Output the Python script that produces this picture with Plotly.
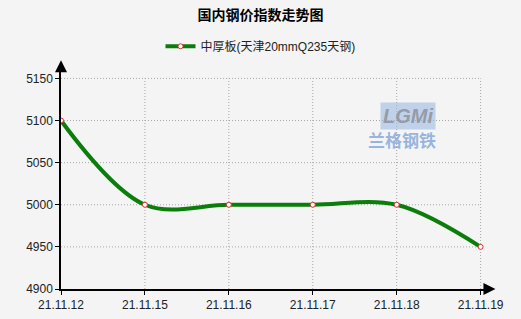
import plotly.graph_objects as go

categories = ["21.11.12", "21.11.15", "21.11.16", "21.11.17", "21.11.18", "21.11.19"]
values = [5100, 5000, 5000, 5000, 5000, 4950]
y_ticks = [4900, 4950, 5000, 5050, 5100, 5150]
series_name = "中厚板(天津20mmQ235天钢)"
title_text = "国内钢价指数走势图"

xs = list(range(len(categories)))
FONT = "Liberation Sans, Noto Sans CJK SC, sans-serif"

fig = go.Figure()
fig.add_trace(go.Scatter(
    x=xs, y=values, name=series_name, mode="lines+markers",
    line=dict(color="#0a7d0a", width=4, shape="spline", smoothing=1.0),
    marker=dict(size=5, color="white", line=dict(color="#e03030", width=1)),
))

shapes = []
for yv in y_ticks[1:]:
    shapes.append(dict(type="line", xref="x", yref="y", x0=0, x1=xs[-1], y0=yv, y1=yv,
                       line=dict(color="#a8a8a8", width=1, dash="1px,2px"), layer="below"))
for xv in xs[1:]:
    shapes.append(dict(type="line", xref="x", yref="y", x0=xv, x1=xv, y0=y_ticks[0], y1=y_ticks[-1],
                       line=dict(color="#a8a8a8", width=1, dash="1px,2px"), layer="below"))

annotations = [
    # axis arrowheads
    dict(xref="paper", yref="paper", x=0, y=1.045, ax=0, ay=12, axref="pixel", ayref="pixel",
         showarrow=True, arrowhead=2, arrowsize=1.6, arrowwidth=1.5, arrowcolor="black", text=""),
    dict(xref="paper", yref="paper", x=1.015, y=0, ax=-12, ay=0,
         showarrow=True, arrowhead=2, arrowsize=1.6, arrowwidth=1.5, arrowcolor="black", text=""),
    # watermark logo
    dict(xref="paper", yref="paper", x=0.875, y=0.855, text="<b><i>LGMi</i></b>", showarrow=False,
         font=dict(family=FONT, size=20, color="rgba(140,140,150,0.8)"),
         bgcolor="rgba(150,180,225,0.55)", borderpad=2),
    dict(xref="paper", yref="paper", x=0.88, y=0.725, text="<b>兰格钢铁</b>", showarrow=False,
         font=dict(family=FONT, size=17, color="rgba(120,160,215,0.75)")),
]

fig.update_layout(
    width=521, height=319,
    margin=dict(l=61, r=32, t=70, b=30, autoexpand=False),
    paper_bgcolor="#f4f4f4", plot_bgcolor="#f4f4f4",
    font=dict(family=FONT, size=12, color="#222"),
    title=dict(text="<b>" + title_text + "</b>", x=0.5, xanchor="center", y=0.952, yanchor="middle",
               font=dict(size=14, color="black")),
    showlegend=True,
    legend=dict(orientation="h", xref="container", yref="container", x=0.5, xanchor="center",
                y=0.855, yanchor="middle", font=dict(size=12, color="#222"),
                bgcolor="rgba(0,0,0,0)", itemwidth=30),
    xaxis=dict(range=[0, 5.1], tickvals=xs, ticktext=categories, showgrid=False, zeroline=False,
               showline=True, linecolor="black", linewidth=1.5, ticks="outside", ticklen=4,
               tickcolor="black", tickfont=dict(size=12), automargin=False),
    yaxis=dict(range=[4900, 5160], tickvals=y_ticks, showgrid=False, zeroline=False,
               showline=True, linecolor="black", linewidth=1.5, ticks="outside", ticklen=4,
               tickcolor="black", tickfont=dict(size=12), automargin=False),
    shapes=shapes, annotations=annotations,
)

fig.write_html("out.html")
